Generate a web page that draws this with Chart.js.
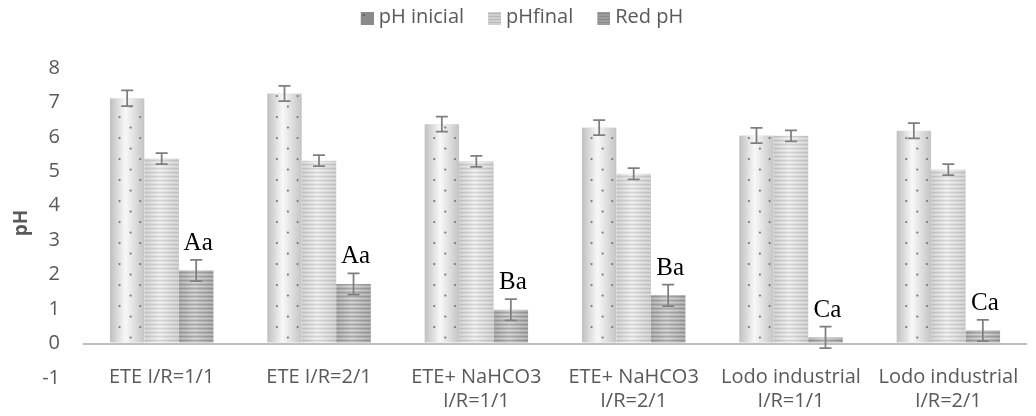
<!DOCTYPE html>
<html>
<head>
<meta charset="utf-8">
<script src="https://cdn.jsdelivr.net/npm/chart.js@4.4.0/dist/chart.umd.min.js"></script>
<style>
  html, body { margin: 0; padding: 0; background: #ffffff; }
  #wrap { width: 1036px; height: 416px; }
</style>
</head>
<body>
<div id="wrap"><canvas id="c" width="1036" height="416"></canvas></div>
<script>
// Treatments (x-axis categories)
const categories = [
  ['ETE I/R=1/1'],
  ['ETE I/R=2/1'],
  ['ETE+ NaHCO3', 'I/R=1/1'],
  ['ETE+ NaHCO3', 'I/R=2/1'],
  ['Lodo industrial', 'I/R=1/1'],
  ['Lodo industrial', 'I/R=2/1']
];

const seriesNames = ['pH inicial', 'pHfinal', 'Red pH'];

// Mean values and standard deviations
const phInicial    = [7.12, 7.26, 6.37, 6.27, 6.04, 6.18];
const phInicialErr = [0.23, 0.22, 0.22, 0.22, 0.22, 0.22];
const phFinal      = [5.37, 5.31, 5.29, 4.93, 6.03, 5.05];
const phFinalErr   = [0.16, 0.16, 0.16, 0.16, 0.16, 0.16];
const redPh        = [2.12, 1.73, 0.98, 1.40, 0.18, 0.38];
const redPhErr     = [0.31, 0.31, 0.31, 0.31, 0.31, 0.31];

// Statistical grouping letters shown over the "Red pH" bars
const groupLetters = ['Aa', 'Aa', 'Ba', 'Ba', 'Ca', 'Ca'];

// Y axis
const yMin = -1;
const yMax = 8;

const errors = [phInicialErr, phFinalErr, redPhErr];
const TEXT = '#595959';
const FONT = "'Open Sans', sans-serif";

// ---- fill styles for the bars -------------------------------------------
function hGrad(ctx, x0, x1, edgeL, mid, edgeR) {
  const g = ctx.createLinearGradient(x0, 0, x1, 0);
  g.addColorStop(0, edgeL);
  g.addColorStop(0.45, mid);
  g.addColorStop(1, edgeR);
  return g;
}

function paintDotted(ctx, l, t, w, b) {
  ctx.fillStyle = hGrad(ctx, l, l + w, '#bfbfbf', '#f8f8f8', '#c4c4c4');
  ctx.fillRect(l, t, w, b - t);
  ctx.fillStyle = '#7c7c7c';
  let k = 0;
  for (let y = b - 5; y > t + 1; y -= 10.5, k++) {
    const xs = (k % 2 === 0) ? [0.6] : [0.28, 0.88];
    xs.forEach(f => {
      ctx.beginPath();
      ctx.arc(l + w * f, y, 1.15, 0, Math.PI * 2);
      ctx.fill();
    });
  }
}

function paintStriped(ctx, l, t, w, b, bg, stripe) {
  ctx.fillStyle = hGrad(ctx, l, l + w, bg[0], bg[1], bg[0]);
  ctx.fillRect(l, t, w, b - t);
  ctx.fillStyle = hGrad(ctx, l, l + w, stripe[0], stripe[1], stripe[0]);
  for (let y = b - 3; y > t - 2; y -= 4) {
    const y0 = Math.max(y, t);
    const y1 = Math.min(y + 2, b);
    if (y1 > y0) ctx.fillRect(l, y0, w, y1 - y0);
  }
}

const painters = [
  (ctx, l, t, w, b) => paintDotted(ctx, l, t, w, b),
  (ctx, l, t, w, b) => paintStriped(ctx, l, t, w, b, ['#d8d8d8', '#f5f5f5'], ['#bdbdbd', '#d7d7d7']),
  (ctx, l, t, w, b) => paintStriped(ctx, l, t, w, b, ['#bababa', '#dadada'], ['#8f8f8f', '#a9a9a9'])
];

// Legend swatches: wide transparent canvas with the square at its right end
function makeSwatch(kind) {
  const cv = document.createElement('canvas');
  cv.width = 35; cv.height = 20;
  const c = cv.getContext('2d');
  const l = 22, t = 5, s = 13;
  if (kind === 0) {
    c.fillStyle = '#8a8a8a'; c.fillRect(l, t, s, s);
    c.fillStyle = '#5e5e5e'; c.fillRect(l + 2, t + 2, 2, 2);
  } else {
    const base = kind === 1 ? '#cfcfcf' : '#9d9d9d';
    const line = kind === 1 ? '#b9b9b9' : '#8a8a8a';
    c.fillStyle = base; c.fillRect(l, t, s, s);
    c.fillStyle = line;
    for (let y = t + 1; y < t + s; y += 3) c.fillRect(l, y, s, 1);
  }
  return cv;
}
const swatches = [makeSwatch(0), makeSwatch(1), makeSwatch(2)];

// ---- plugins --------------------------------------------------------------
const legendSize = {
  id: 'legendSize',
  beforeInit(chart) {
    const legend = chart.legend;
    const fit = legend.fit;
    legend.fit = function () { fit.call(this); this.height = 68; };
  }
};

const barDecor = {
  id: 'barDecor',
  afterDatasetsDraw(chart) {
    const ctx = chart.ctx;
    const yScale = chart.scales.y;
    // textures
    chart.data.datasets.forEach((ds, d) => {
      const meta = chart.getDatasetMeta(d);
      meta.data.forEach(bar => {
        const p = bar.getProps(['x', 'y', 'base', 'width'], true);
        const l = p.x - p.width / 2;
        const t = Math.min(p.y, p.base);
        const b = Math.max(p.y, p.base);
        ctx.save();
        ctx.beginPath();
        ctx.rect(l, t, p.width, b - t);
        ctx.clip();
        painters[d](ctx, l, t, p.width, b);
        ctx.restore();
      });
    });
    // error bars
    ctx.save();
    ctx.strokeStyle = '#7f7f7f';
    ctx.lineWidth = 1.75;
    chart.data.datasets.forEach((ds, d) => {
      const meta = chart.getDatasetMeta(d);
      meta.data.forEach((bar, j) => {
        const v = ds.data[j];
        const e = errors[d][j];
        const x = bar.x;
        const yt = yScale.getPixelForValue(v + e);
        const yb = yScale.getPixelForValue(v - e);
        ctx.beginPath();
        ctx.moveTo(x, yt); ctx.lineTo(x, yb);
        ctx.moveTo(x - 6, yt); ctx.lineTo(x + 6, yt);
        ctx.moveTo(x - 6, yb); ctx.lineTo(x + 6, yb);
        ctx.stroke();
      });
    });
    ctx.restore();
    // letters over the last series
    const last = chart.data.datasets.length - 1;
    const meta = chart.getDatasetMeta(last);
    ctx.save();
    ctx.fillStyle = '#000000';
    ctx.font = "25px 'Liberation Serif', 'Times New Roman', serif";
    ctx.textAlign = 'center';
    ctx.textBaseline = 'alphabetic';
    meta.data.forEach((bar, j) => {
      const top = yScale.getPixelForValue(redPh[j] + redPhErr[j]);
      ctx.fillText(groupLetters[j], bar.x + 2, top - 10);
    });
    ctx.restore();
  }
};

function build() {
  Chart.defaults.font.family = FONT;
  Chart.defaults.font.size = 20;
  Chart.defaults.color = TEXT;

  new Chart(document.getElementById('c'), {
    type: 'bar',
    data: {
      labels: categories,
      datasets: [
        { label: seriesNames[0], data: phInicial, backgroundColor: '#e6e6e6' },
        { label: seriesNames[1], data: phFinal,   backgroundColor: '#e6e6e6' },
        { label: seriesNames[2], data: redPh,     backgroundColor: '#c4c4c4' }
      ]
    },
    options: {
      responsive: false,
      animation: false,
      devicePixelRatio: 1,
      categoryPercentage: 0.658,
      barPercentage: 1.0,
      layout: { padding: { left: 0, right: 9, top: 0, bottom: 0 } },
      plugins: {
        tooltip: { enabled: false },
        legend: {
          position: 'top',
          labels: {
            usePointStyle: true,
            pointStyleWidth: 25,
            padding: 7,
            color: TEXT,
            font: { size: 20, family: FONT },
            generateLabels(chart) {
              const items = Chart.defaults.plugins.legend.labels.generateLabels(chart);
              items.forEach((it, i) => { it.pointStyle = swatches[i]; });
              return items;
            }
          }
        }
      },
      scales: {
        x: {
          grid: { display: false, drawTicks: false },
          border: { display: false },
          ticks: { padding: -13, color: TEXT, font: { size: 20 }, maxRotation: 0, autoSkip: false },
          afterFit(scale) {
            scale.height = 38;
            // category names sit level with the lowest y tick, so no label clipping
            scale._computeLabelArea = () => undefined;
          }
        },
        y: {
          min: yMin,
          max: yMax,
          border: { display: false },
          grid: {
            drawTicks: false,
            lineWidth: 2,
            color: c => (c.tick && c.tick.value === 0) ? '#bfbfbf' : 'rgba(0,0,0,0)'
          },
          ticks: { stepSize: 1, padding: 23, color: TEXT, font: { size: 20 } },
          title: {
            display: true,
            text: 'pH',
            color: TEXT,
            font: { size: 19, weight: 'bold' },
            padding: { top: 10, bottom: 0 }
          },
          afterFit(scale) { scale.width = 83; }
        }
      }
    },
    plugins: [legendSize, barDecor]
  });
}

Promise.all([
  document.fonts.load("20px 'Open Sans'"),
  document.fonts.load("bold 19px 'Open Sans'"),
  document.fonts.load("25px 'Liberation Serif'")
]).then(build, build);
</script>
</body>
</html>
